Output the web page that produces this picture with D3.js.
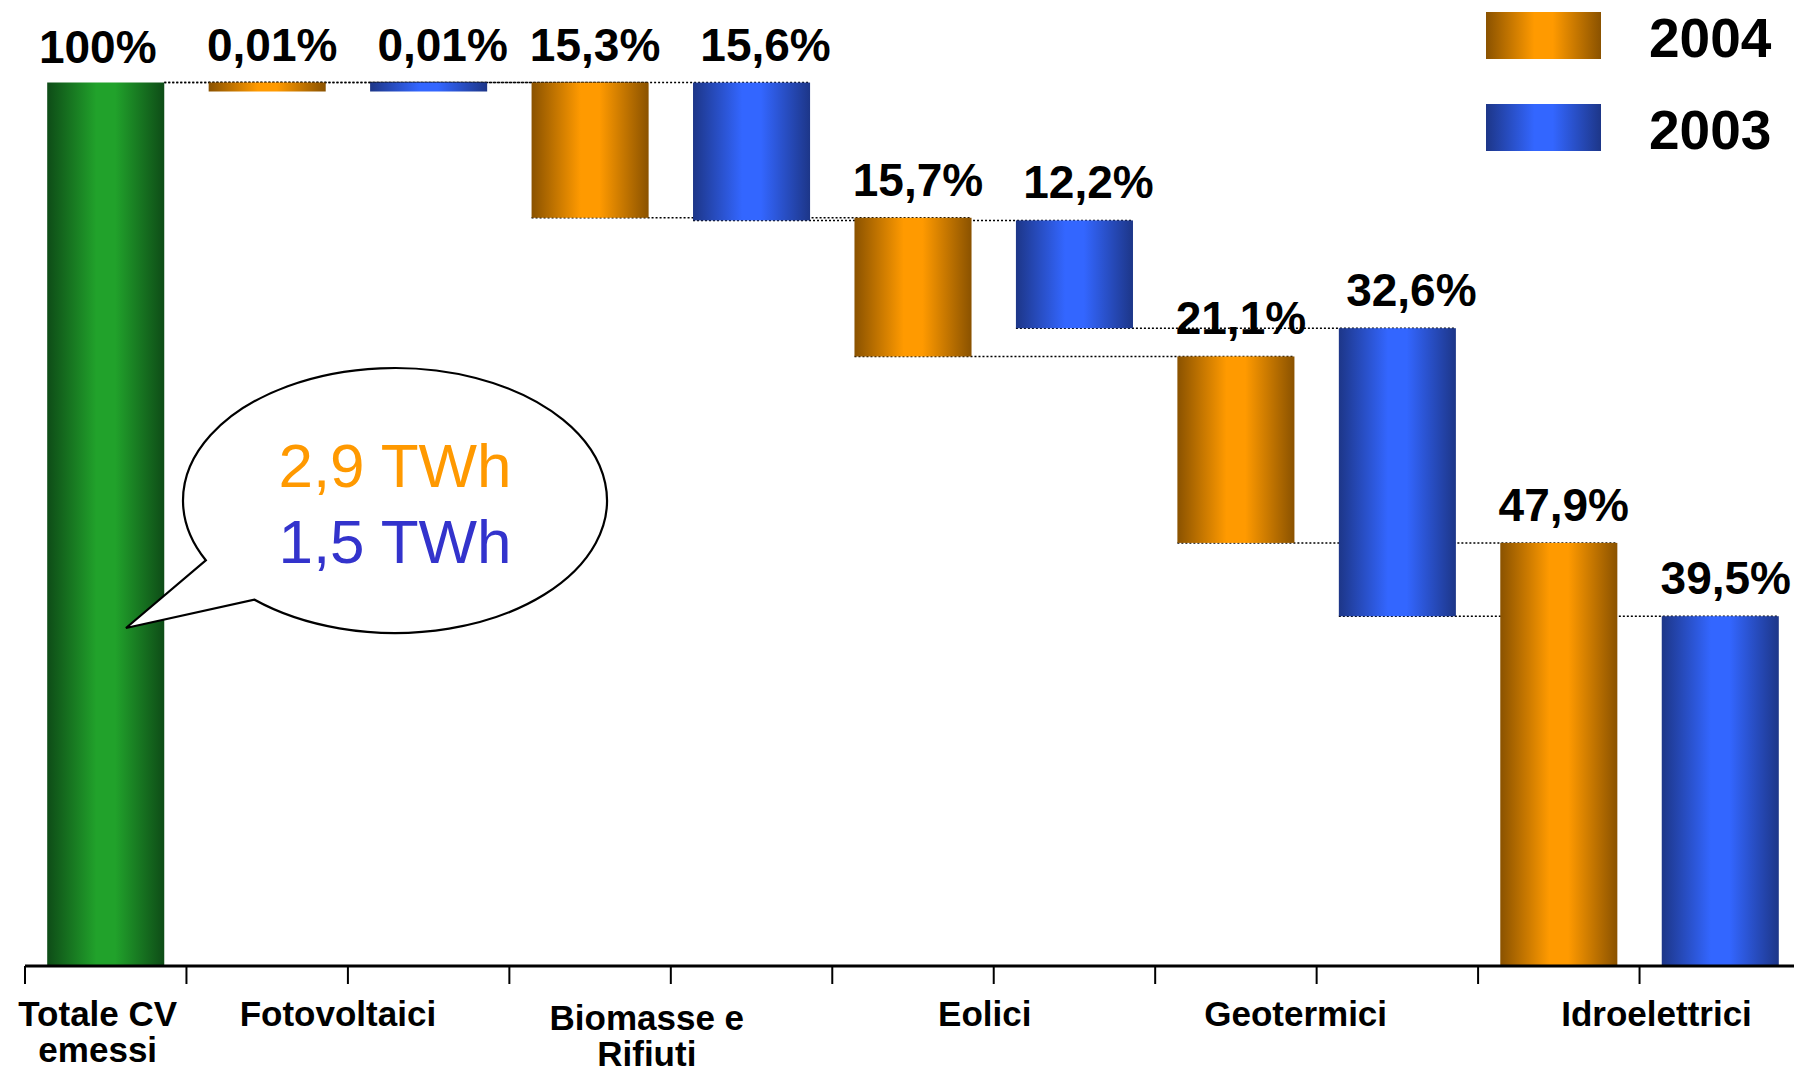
<!DOCTYPE html>
<html>
<head>
<meta charset="utf-8">
<script src="https://cdn.jsdelivr.net/npm/d3@7"></script>
<style>
  html, body { margin: 0; padding: 0; background: #fff; }
  svg { display: block; font-family: "Liberation Sans", Arial, Helvetica, sans-serif; }
</style>
</head>
<body>
<svg id="chart" width="1794" height="1074"></svg>
<script>
// ---------- data ----------
const totalLabel = "Totale CV emessi";
const totalValue = 100;
const sources = ["Fotovoltaici", "Biomasse e Rifiuti", "Eolici", "Geotermici", "Idroelettrici"];
const sourceLabelLines = [["Fotovoltaici"], ["Biomasse e", "Rifiuti"], ["Eolici"], ["Geotermici"], ["Idroelettrici"]];
const totalLabelLines = ["Totale CV", "emessi"];
const years = ["2004", "2003"];
const values2004 = [0.01, 15.3, 15.7, 21.1, 47.9];
const values2003 = [0.01, 15.6, 12.2, 32.6, 39.5];
const bubbleLines = ["2,9 TWh", "1,5 TWh"];

// ---------- setup ----------
const W = 1794, H = 1074;
const svg = d3.select("#chart");
const colors = {
  "2004": { dark: "#8a5200", light: "#ff9a00", text: "#ff9900" },
  "2003": { dark: "#1d3688", light: "#3366ff", text: "#3333cc" },
  total: { dark: "#0e4c17", light: "#21a22b" }
};
const defs = svg.append("defs");
function grad(id, c) {
  const g = defs.append("linearGradient").attr("id", id).attr("x1", 0).attr("x2", 1).attr("y1", 0).attr("y2", 0);
  g.append("stop").attr("offset", "0%").attr("stop-color", c.dark);
  g.append("stop").attr("offset", "42%").attr("stop-color", c.light);
  g.append("stop").attr("offset", "58%").attr("stop-color", c.light);
  g.append("stop").attr("offset", "100%").attr("stop-color", c.dark);
}
grad("g2004", colors["2004"]);
grad("g2003", colors["2003"]);
grad("gtotal", colors.total);

const seriesValues = { "2004": values2004, "2003": values2003 };
const keys = ["total"];
sources.forEach(s => years.forEach(y => keys.push(s + "|" + y)));

const x = d3.scaleBand().domain(keys).range([25, 1801]).paddingInner(0.275).paddingOuter(0.1375);
const y = d3.scaleLinear().domain([0, 100]).range([966, 82.5]);
const step = x.step();
const boundary = k => x(k) - step * x.paddingInner() / 2;

const fmt = d3.formatLocale({ decimal: ",", thousands: ".", grouping: [3], currency: ["", "€"] });
const pctLabel = v => (v < 1 ? fmt.format(".2f")(v) : fmt.format(".1f")(v)) + "%";

// waterfall bars
const bars = [];
years.forEach(yr => {
  let level = totalValue;
  seriesValues[yr].forEach((v, i) => {
    const start = level;
    const end = Math.max(0, level - v);
    bars.push({ key: sources[i] + "|" + yr, year: yr, idx: i, start, end, value: v });
    level = level - v;
  });
});

const minH = 9;
const barGeom = b => {
  const top = y(b.start);
  const h = Math.max(y(b.end) - top, minH);
  return { x: x(b.key), y: top, w: x.bandwidth(), h };
};

// ---------- connectors (under bars) ----------
const conn = svg.append("g").attr("fill", "none").attr("stroke", "#000")
  .attr("stroke-width", 1.5).attr("stroke-dasharray", "2,2");
years.forEach(yr => {
  const sb = bars.filter(b => b.year === yr);
  sb.forEach((b, i) => {
    const prevKey = i === 0 ? "total" : sb[i - 1].key;
    const x1 = i === 0 ? x("total") + x.bandwidth() : x(prevKey);
    const x2 = x(b.key) + x.bandwidth();
    conn.append("line").attr("x1", x1).attr("x2", x2)
      .attr("y1", y(b.start)).attr("y2", y(b.start));
  });
});

// ---------- bars ----------
svg.append("rect")
  .attr("x", x("total")).attr("width", x.bandwidth())
  .attr("y", y(totalValue)).attr("height", y(0) - y(totalValue))
  .attr("fill", "url(#gtotal)");

svg.append("g").selectAll("rect").data(bars).join("rect")
  .attr("x", d => barGeom(d).x).attr("y", d => barGeom(d).y)
  .attr("width", d => barGeom(d).w).attr("height", d => barGeom(d).h)
  .attr("fill", d => "url(#g" + d.year + ")");

// ---------- value labels ----------
const labelShift = { "2004": 5, "2003": 14, total: -8 };
const lab = svg.append("g").attr("font-weight", "bold").attr("font-size", 46)
  .attr("text-anchor", "middle").attr("fill", "#000");
lab.append("text")
  .attr("x", x("total") + x.bandwidth() / 2 + labelShift.total)
  .attr("y", y(totalValue) - 20)
  .text(totalValue + "%");
lab.selectAll("text.v").data(bars).join("text").attr("class", "v")
  .attr("x", d => x(d.key) + x.bandwidth() / 2 + labelShift[d.year])
  .attr("y", d => y(d.start) - 22)
  .text(d => pctLabel(d.value))
  .each(function () {
    // keep label inside the picture
    const half = this.getComputedTextLength() / 2;
    const cx = +this.getAttribute("x");
    if (cx + half > W - 3) this.setAttribute("x", W - 3 - half);
  });

// ---------- axis ----------
const axis = svg.append("g").attr("stroke", "#000");
axis.append("line").attr("x1", boundary("total")).attr("x2", W)
  .attr("y1", y(0)).attr("y2", y(0)).attr("stroke-width", 3);
axis.selectAll("line.t").data(keys).join("line").attr("class", "t")
  .attr("x1", d => boundary(d)).attr("x2", d => boundary(d))
  .attr("y1", y(0)).attr("y2", y(0) + 18).attr("stroke-width", 2);

// category labels (nudges are layout offsets in px)
const catNudge = [-8, -10, -24, -9, -21, 17];
const cat = svg.append("g").attr("font-weight", "bold").attr("font-size", 35)
  .attr("text-anchor", "middle").attr("fill", "#000");
const catData = [{ cx: x("total") + x.bandwidth() / 2 + catNudge[0], lines: totalLabelLines, top: 60 }];
sources.forEach((s, i) => catData.push({
  cx: boundary(s + "|2003") + catNudge[i + 1], lines: sourceLabelLines[i],
  top: sourceLabelLines[i].length > 1 ? 64 : 60
}));
catData.forEach(c => {
  const t = cat.append("text").attr("x", c.cx).attr("y", y(0) + c.top);
  c.lines.forEach((ln, j) => t.append("tspan").attr("x", c.cx).attr("dy", j === 0 ? 0 : 36).text(ln));
});

// ---------- legend ----------
const leg = svg.append("g");
years.forEach((yr, i) => {
  const g = leg.append("g").attr("transform", `translate(1486, ${12 + i * 92})`);
  g.append("rect").attr("width", 115).attr("height", 47).attr("fill", "url(#g" + yr + ")");
  g.append("text").attr("x", 163).attr("y", 45).attr("font-size", 55).attr("font-weight", "bold").text(yr);
});

// ---------- speech bubble ----------
const bx = 395, by = 500.5, rx = 212, ry = 132.5;
const a1 = Math.atan2((560 - by) / ry, (206.7 - bx) / rx);
const a2 = Math.atan2((599 - by) / ry, (255 - bx) / rx);
const tip = [126, 628];
const p1 = [bx + rx * Math.cos(a1), by + ry * Math.sin(a1)];
const p2 = [bx + rx * Math.cos(a2), by + ry * Math.sin(a2)];
const bubblePath = `M${p2[0]},${p2[1]} A${rx},${ry} 0 1 0 ${p1[0]},${p1[1]} L${tip[0]},${tip[1]} Z`;
svg.append("path").attr("d", bubblePath).attr("fill", "#fff").attr("stroke", "#000").attr("stroke-width", 2.2);
const bt = svg.append("g").attr("font-size", 62).attr("text-anchor", "middle");
bubbleLines.forEach((ln, i) => {
  bt.append("text").attr("x", bx).attr("y", 487 + i * 76).attr("fill", colors[years[i]].text).text(ln);
});
</script>
</body>
</html>
